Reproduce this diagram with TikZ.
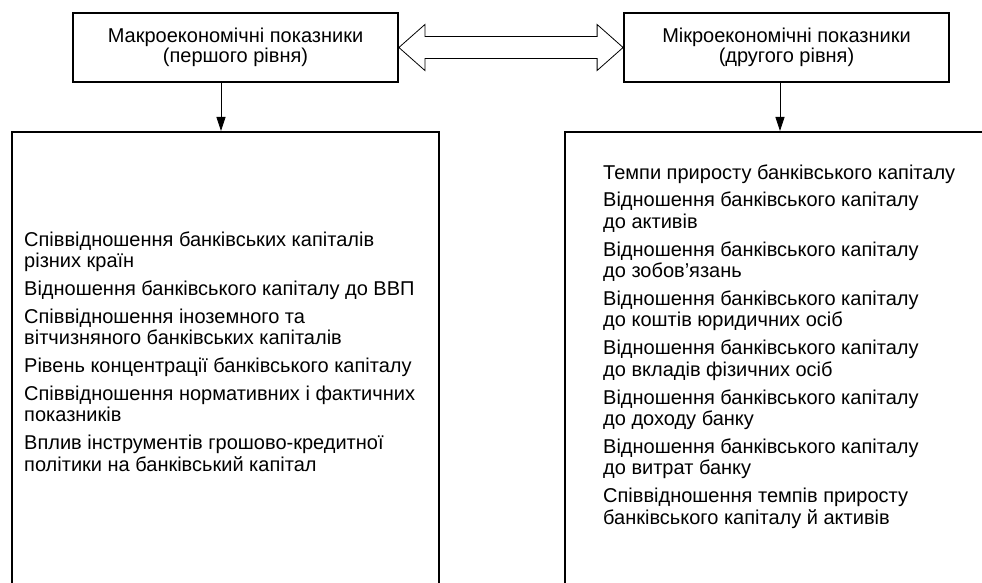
\documentclass[tikz,border=0pt]{standalone}
\usepackage{fontspec}
\setmainfont{Liberation Sans}
\usetikzlibrary{arrows.meta,calc}
\begin{document}
\begin{tikzpicture}[x=1pt,y=-1pt,
  box/.style={draw,line width=1.8pt,rectangle,inner sep=0pt},
  topbox/.style={box,minimum width=325pt,minimum height=69pt,align=center,font=\fontsize{20}{20.5}\selectfont},
  arr/.style={line width=0.8pt,-{Triangle[length=14pt,width=9pt]}},
  dbl/.style={line width=0.8pt,line join=miter},
  ln/.style={anchor=base west,inner sep=0pt,font=\fontsize{20}{21}\selectfont}]
\useasboundingbox (0,0) rectangle (982,583);
\clip (0,0) rectangle (982,583);
\fill[white] (0,0) rectangle (982,583);
\node[topbox] (ma) at (235.5,47.5) {Макроекономічні показники\\(першого рівня)};
\node[topbox] (mi) at (786.5,47.5) {Мікроекономічні показники\\(другого рівня)};
\node[box,minimum width=427pt,minimum height=500pt,anchor=north west] (lb) at (11,131) {};
\node[box,minimum width=440pt,minimum height=500pt,anchor=north west] (rb) at (564,131) {};
\draw[dbl] let \p1=(ma.east), \p2=(mi.west) in
  (\x1,\y1) -- (\x1+26pt,\y1+23pt) -- (\x1+26pt,\y1+11pt) -- (\x2-26pt,\y1+11pt) -- (\x2-26pt,\y1+23pt)
  -- (\x2,\y2) -- (\x2-26pt,\y1-23pt) -- (\x2-26pt,\y1-11pt) -- (\x1+26pt,\y1-11pt) -- (\x1+26pt,\y1-23pt) -- cycle;
\draw[arr] ([xshift=-14.5pt]ma.south) -- ([xshift=-14.5pt]ma.south |- lb.north);
\draw[arr] ([xshift=-6.5pt]mi.south) -- ([xshift=-6.5pt]mi.south |- rb.north);
\foreach \yy/\txt [count=\i] in {
246/Співвідношення банківських капіталів,
267.4/різних країн,
295.3/Відношення банківського капіталу до ВВП,
323.2/Співвідношення іноземного та,
344.6/вітчизняного банківських капіталів,
372.5/Рівень концентрації банківського капіталу,
400.4/Співвідношення нормативних і фактичних,
421.8/показників,
449.7/Вплив інструментів грошово-кредитної,
471.1/політики на банківський капітал}
  \node[ln] (L\i) at (24,\yy) {\txt};
\foreach \yy/\txt [count=\i] in {
179/Темпи приросту банківського капіталу,
206.9/Відношення банківського капіталу,
228.3/до активів,
256.2/Відношення банківського капіталу,
277.6/до зобов’язань,
305.5/Відношення банківського капіталу,
326.9/до коштів юридичних осіб,
354.8/Відношення банківського капіталу,
376.2/до вкладів фізичних осіб,
404.1/Відношення банківського капіталу,
425.5/до доходу банку,
453.4/Відношення банківського капіталу,
474.8/до витрат банку,
502.7/Співвідношення темпів приросту,
524.1/банківського капіталу й активів}
  \node[ln] (R\i) at (603,\yy) {\txt};
\end{tikzpicture}
\end{document}
